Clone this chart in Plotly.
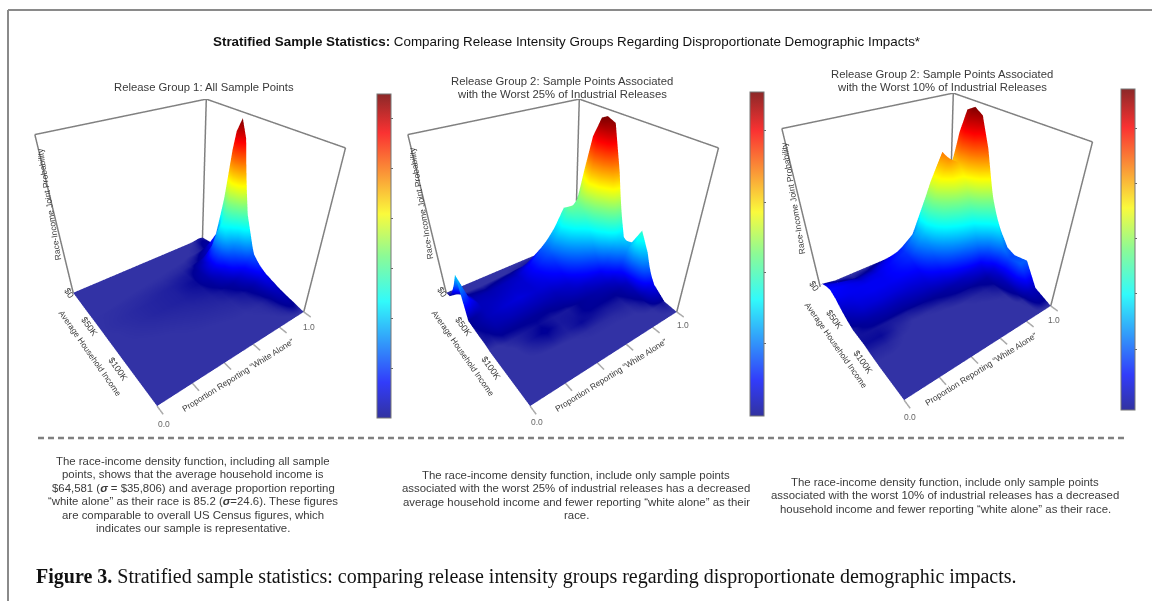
import plotly.graph_objects as go

WIDTH, HEIGHT = 1152, 601

# ---------- data (z = density as a share of the colour-bar range) ----------
INCOME_1 = [0, 20, 35, 45, 52, 58, 64, 72, 85, 100, 120, 150]
WHITE_1 = [0, .3, .5, .65, .72, .78, .82, .85, .88, .91, .93, .95, .97, 1]
DENSITY_1 = [
    [0, 0, 0, 0, 0, 0, 0, 0, 0, .002, .005, .008, .01, .005],
    [0, 0, 0, 0, 0, .002, .003, .005, .008, .015, .025, .03, .03, .02],
    [0, .002, .003, .005, .008, .015, .025, .04, .06, .1, .16, .2, .18, .1],
    [.002, .004, .006, .01, .02, .05, .1, .16, .2, .3, .48, .6, .5, .2],
    [.002, .005, .008, .012, .03, .08, .17, .3, .36, .52, .82, .92, .78, .3],
    [.002, .006, .008, .015, .035, .1, .2, .37, .42, .64, .95, 1, .86, .33],
    [.002, .006, .008, .015, .035, .1, .19, .33, .38, .54, .8, .9, .72, .28],
    [.001, .006, .008, .012, .025, .06, .11, .18, .22, .3, .44, .52, .44, .2],
    [.001, .004, .006, .008, .012, .02, .03, .05, .08, .12, .16, .2, .2, .13],
    [0, .002, .004, .005, .006, .01, .012, .018, .025, .045, .07, .1, .11, .08],
    [0, .001, .001, .002, .002, .003, .004, .006, .01, .018, .03, .045, .055, .04],
    [0, 0, 0, 0, 0, 0, 0, 0, 0, 0, 0, 0, 0, 0],
]

INCOME_2 = [0, 10, 20, 30, 40, 50, 60, 70, 80, 90, 100, 110, 120, 135, 150]
WHITE_2 = [0, .05, .1, .2, .3, .4, .5, .6, .68, .75, .8, .85, .9, .94, .97, 1]
DENSITY_2 = [
    [0, 0, 0, 0, 0, 0, 0, 0, 0, 0, 0, .005, .01, .02, .02, 0],
    [.02, .01, 0, 0, 0, .003, .008, .015, .03, .05, .05, .08, .1, .12, .1, .03],
    [.1, .05, .02, .015, .025, .035, .07, .14, .2, .3, .25, .28, .35, .4, .3, .1],
    [.2, .1, .04, .04, .05, .06, .12, .22, .32, .44, .42, .45, .65, .7, .5, .18],
    [.32, .12, .05, .05, .06, .07, .12, .2, .34, .48, .48, .6, .88, .93, .7, .25],
    [.02, .03, .05, .06, .07, .07, .1, .15, .28, .4, .46, .7, 1, 1, .8, .3],
    [.015, .03, .05, .07, .08, .07, .08, .11, .2, .28, .36, .62, .92, .98, .75, .28],
    [.01, .02, .04, .05, .05, .05, .05, .07, .12, .17, .22, .4, .68, .72, .52, .2],
    [.01, .01, .02, .02, .02, .02, .03, .05, .06, .08, .1, .18, .32, .36, .28, .14],
    [0, 0, .005, .01, .015, .01, .01, .02, .03, .04, .05, .07, .14, .26, .3, .18],
    [0, 0, 0, .01, .02, .01, .012, .02, .02, .02, .02, .03, .06, .36, .42, .25],
    [0, 0, 0, .005, .01, .008, .015, .012, .01, .01, .01, .02, .04, .24, .3, .18],
    [0, 0, 0, 0, 0, .002, .004, .004, .004, .005, .005, .01, .02, .08, .12, .08],
    [0, 0, 0, 0, 0, 0, 0, 0, 0, 0, 0, .002, .003, .008, .012, .01],
    [0, 0, 0, 0, 0, 0, 0, 0, 0, 0, 0, 0, 0, 0, 0, 0],
]

INCOME_3 = [0, 10, 20, 30, 40, 50, 60, 70, 80, 90, 100, 115, 130, 150]
WHITE_3 = [0, .1, .2, .3, .4, .5, .6, .7, .78, .85, .9, .95, 1]
DENSITY_3 = [
    [.02, 0, 0, 0, 0, 0, .01, .02, .03, .03, .03, .04, .02],
    [.07, .03, .01, .02, .05, .07, .1, .18, .22, .18, .2, .25, .12],
    [.1, .08, .05, .06, .1, .14, .22, .45, .62, .5, .6, .72, .35],
    [.12, .1, .08, .09, .12, .16, .3, .6, .76, .66, .85, .97, .52],
    [.1, .1, .1, .1, .12, .15, .3, .58, .74, .7, .94, 1, .58],
    [.06, .09, .1, .1, .11, .12, .24, .46, .58, .62, .87, .97, .55],
    [.03, .07, .08, .08, .08, .09, .16, .3, .4, .46, .66, .8, .48],
    [.01, .03, .04, .04, .05, .06, .09, .16, .22, .28, .42, .55, .37],
    [.012, .012, .01, .01, .015, .02, .03, .05, .08, .1, .2, .38, .28],
    [.014, .015, .006, .002, .003, .006, .012, .015, .02, .03, .08, .24, .2],
    [.006, .006, .002, 0, 0, 0, .002, .005, .008, .015, .05, .18, .18],
    [0, 0, 0, 0, 0, 0, 0, 0, .002, .004, .03, .2, .2],
    [0, 0, 0, 0, 0, 0, 0, 0, 0, 0, .005, .05, .05],
    [0, 0, 0, 0, 0, 0, 0, 0, 0, 0, 0, 0, 0],
]

WHITE_TICKS = [0, .2, .4, .6, .8, 1]
COLORBAR_TICKS = [
    [.154, .308, .462, .615, .769, .923],
    [.224, .443, .66, .88],
    [.19, .363, .533, .705, .878],
]
Y_MAX = 150
Z_TOP = 1.01
Y_TICK_END = 158

SURFACE_SCALE = [
    [0, "rgb(50,50,165)"], [.015, "rgb(0,0,150)"], [.11, "rgb(0,0,255)"],
    [.36, "rgb(0,255,255)"], [.5, "rgb(125,255,130)"], [.63, "rgb(255,255,0)"],
    [.88, "rgb(255,0,0)"], [1, "rgb(128,0,0)"],
]
BAR_SCALE = [
    [0, "rgb(50,50,160)"], [.11, "rgb(50,60,250)"], [.36, "rgb(50,250,250)"],
    [.5, "rgb(140,250,150)"], [.63, "rgb(250,250,60)"], [.88, "rgb(250,50,50)"],
    [1, "rgb(140,40,40)"],
]

PANELS = [
    dict(scene="scene", income=INCOME_1, white=WHITE_1, z=DENSITY_1,
         px=(3, 373), py=(99, 417), bar=(377, 94, 418, 14)),
    dict(scene="scene2", income=INCOME_2, white=WHITE_2, z=DENSITY_2,
         px=(376, 746), py=(99, 417), bar=(750, 92, 416, 14)),
    dict(scene="scene3", income=INCOME_3, white=WHITE_3, z=DENSITY_3,
         px=(750, 1120), py=(93, 411), bar=(1121, 89, 410, 14)),
]

fig = go.Figure()
NO_HIGHLIGHT = dict(show=False, highlight=False)

for i, p in enumerate(PANELS):
    fig.add_trace(go.Surface(
        x=p["white"], y=p["income"], z=p["z"], scene=p["scene"], showscale=False,
        colorscale=SURFACE_SCALE, cmin=0, cmax=1,
        lighting=dict(ambient=1, diffuse=0, specular=0, fresnel=0, roughness=1),
        contours=dict(x=NO_HIGHLIGHT, y=NO_HIGHLIGHT, z=NO_HIGHLIGHT),
        hoverinfo="skip",
    ))
    # open box: three verticals and the two far top edges
    fx = [0, 0, None, 1, 1, None, 1, 1, None, 0, 1, 1]
    fy = [0, 0, None, 0, 0, None, Y_MAX, Y_MAX, None, 0, 0, Y_MAX]
    fz = [0, Z_TOP, None, 0, Z_TOP, None, 0, Z_TOP, None, Z_TOP, Z_TOP, Z_TOP]
    fig.add_trace(go.Scatter3d(x=fx, y=fy, z=fz, mode="lines", scene=p["scene"],
                               line=dict(color="#808080", width=3), showlegend=False,
                               hoverinfo="skip"))
    tx, ty, tz = [], [], []
    for t in WHITE_TICKS:
        tx += [t, t, None]
        ty += [Y_MAX, Y_TICK_END, None]
        tz += [0, 0, None]
    fig.add_trace(go.Scatter3d(x=tx, y=ty, z=tz, mode="lines", scene=p["scene"],
                               line=dict(color="#aaaaaa", width=3), showlegend=False,
                               hoverinfo="skip"))
    x0, ytop, ybot, th = p["bar"]
    fig.add_trace(go.Scatter3d(
        x=[0, 0], y=[0, 0], z=[0, 0], mode="markers", scene=p["scene"], showlegend=False,
        hoverinfo="skip", opacity=0,
        marker=dict(size=1, color=[0, 1], cmin=0, cmax=1, colorscale=BAR_SCALE, showscale=True,
                    colorbar=dict(x=x0 / WIDTH, xanchor="left", xpad=0, ypad=0,
                                  y=1 - ytop / HEIGHT, yanchor="top",
                                  len=(ybot - ytop) / HEIGHT, lenmode="fraction",
                                  thickness=th, thicknessmode="pixels",
                                  outlinecolor="#777777", outlinewidth=1,
                                  tickvals=COLORBAR_TICKS[i], ticks="outside", ticklen=2,
                                  tickcolor="#666666", showticklabels=False)),
    ))


def axis(rng):
    return dict(visible=False, range=rng, showgrid=False, zeroline=False, showbackground=False)


for p in PANELS:
    fig.layout[p["scene"]] = dict(
        domain=dict(x=[p["px"][0] / WIDTH, p["px"][1] / WIDTH],
                    y=[1 - p["py"][1] / HEIGHT, 1 - p["py"][0] / HEIGHT]),
        xaxis=axis([-.005, 1.005]), yaxis=axis([Y_TICK_END + 2, -1]), zaxis=axis([-.01, Z_TOP + .01]),
        aspectmode="manual", aspectratio=dict(x=1, y=1, z=.98),
        camera=dict(eye=dict(x=-.96, y=-1.30, z=1.08), up=dict(x=0, y=0, z=1),
                    center=dict(x=0, y=0, z=-.14)),
        bgcolor="rgba(0,0,0,0)",
    )

TXT = "#3a3a3a"
SANS = "Liberation Sans"
SERIF = "Liberation Serif"
annotations = []


def add(text, x, y, size=10.5, angle=0, family=SANS, color=TXT, anchor="center"):
    annotations.append(dict(text=text, x=x / WIDTH, y=1 - y / HEIGHT, xref="paper", yref="paper",
                            xanchor=anchor, yanchor="middle", showarrow=False, textangle=angle,
                            align="center", font=dict(family=family, size=size, color=color)))


add("<b>Stratified Sample Statistics:</b> Comparing Release Intensity Groups Regarding "
    "Disproportionate Demographic Impacts*", 566, 42, size=13.4, color="#111111")
add("Release Group 1: All Sample Points", 204, 87, size=11.3, color="#3a3a3a")
for text, x, y in [
    ("Release Group 2: Sample Points Associated", 562, 81),
    ("with the Worst 25% of Industrial Releases", 562, 94),
    ("Release Group 2: Sample Points Associated", 942, 74),
    ("with the Worst 10% of Industrial Releases", 942, 87),
]:
    add(text, x, y, size=11.3, color="#3a3a3a")

AXIS_LABELS = [
    dict(zc=(49, 204), inc=(90, 353), zeros=(69, 293), k50=(89, 326), k100=(118, 369),
         prop=(238, 375), o=(164, 424), one=(309, 327)),
    dict(zc=(421, 203), inc=(463, 353), zeros=(442, 292), k50=(463, 326), k100=(491, 368),
         prop=(611, 375), o=(537, 422), one=(683, 325)),
    dict(zc=(793, 198), inc=(836, 345), zeros=(814, 286), k50=(834, 319), k100=(863, 362),
         prop=(981, 369), o=(910, 417), one=(1054, 320)),
]
for a in AXIS_LABELS:
    add("Race-Income Joint Probability", *a["zc"], size=8.5, angle=-99.5)
    add("Average Household Income", *a["inc"], size=8.3, angle=55)
    add("$0", *a["zeros"], size=9, angle=55)
    add("$50K", *a["k50"], size=9, angle=55)
    add("$100K", *a["k100"], size=9, angle=55)
    add("Proportion Reporting \u201cWhite Alone\u201d", *a["prop"], size=8.4, angle=-32)
    add("0.0", *a["o"], size=8.5, color="#666666")
    add("1.0", *a["one"], size=8.5, color="#666666")

SIGMA = "<b><i>\u03c3</i></b>"
BODY_1 = [
    "The race-income density function, including all sample",
    "points, shows that the average household income is",
    f"$64,581 ({SIGMA} = $35,806) and average proportion reporting",
    f"\u201cwhite alone\u201d as their race is 85.2 ({SIGMA}=24.6). These figures",
    "are comparable to overall US Census figures, which",
    "indicates our sample is representative.",
]
BODY_2 = [
    "The race-income density function, include only sample points",
    "associated with the worst 25% of industrial releases has a decreased",
    "average household income and fewer reporting \u201cwhite alone\u201d as their",
    "race.",
]
BODY_3 = [
    "The race-income density function, include only sample points",
    "associated with the worst 10% of industrial releases has a decreased",
    "household income and fewer reporting \u201cwhite alone\u201d as their race.",
]
for lines, x, y0 in [(BODY_1, 193, 461), (BODY_2, 576, 475), (BODY_3, 945, 482)]:
    for k, line in enumerate(lines):
        add(line, x, y0 + k * 13.4, size=11.4)

add("<b>Figure 3.</b> Stratified sample statistics: comparing release intensity groups regarding "
    "disproportionate demographic impacts.", 34, 576, size=20, family=SERIF, color="#111111",
    anchor="left")

shapes = [
    dict(type="line", xref="paper", yref="paper", x0=38 / WIDTH, x1=1128 / WIDTH,
         y0=1 - 438 / HEIGHT, y1=1 - 438 / HEIGHT,
         line=dict(color="#808080", width=2.5, dash="6px,4px")),
    dict(type="line", xref="paper", yref="paper", x0=8 / WIDTH, x1=8 / WIDTH, y0=0,
         y1=1 - 10 / HEIGHT, line=dict(color="#8a8a8a", width=2)),
    dict(type="line", xref="paper", yref="paper", x0=8 / WIDTH, x1=1, y0=1 - 10 / HEIGHT,
         y1=1 - 10 / HEIGHT, line=dict(color="#8a8a8a", width=2)),
]

fig.update_layout(width=WIDTH, height=HEIGHT, margin=dict(l=0, r=0, t=0, b=0),
                  paper_bgcolor="white", showlegend=False,
                  annotations=annotations, shapes=shapes)
fig.write_html("out.html", post_script="document.body.style.margin='0';",
               config={"displayModeBar": False})
